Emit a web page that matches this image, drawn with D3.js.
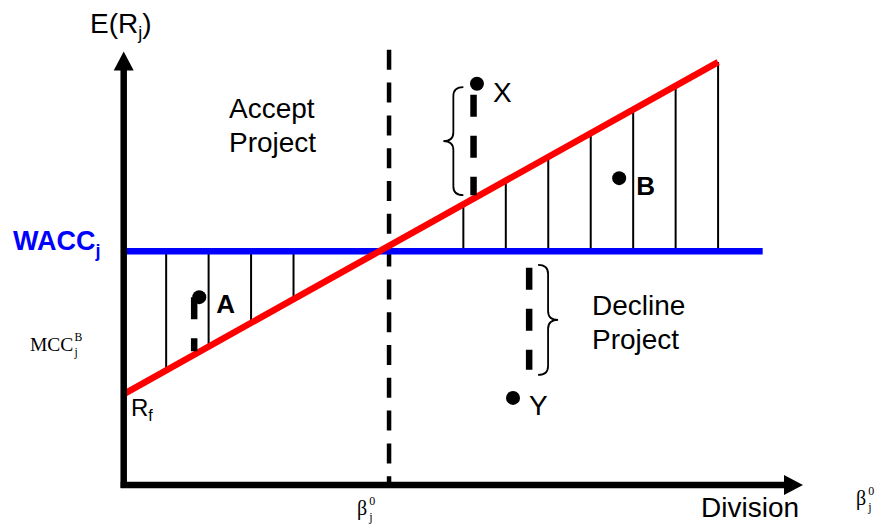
<!DOCTYPE html>
<html>
<head>
<meta charset="utf-8">
<script src="https://cdn.jsdelivr.net/npm/d3@7"></script>
<style>
  body { margin: 0; background: #fff; }
  text { font-family: "Liberation Sans", Arial, sans-serif; }
  .serif { font-family: "Liberation Serif", "Times New Roman", serif; }
</style>
</head>
<body>
<div id="chart"></div>
<script>
// conceptual values (beta on x, expected return on y)
const betaMax = 16;
const returnMax = 10.2;
const riskFree = 2.14;
const waccValue = 5.5;
const smlSlope = 0.558;
const smlEndBeta = 14;
const waccEndBeta = 15.05;
const beta0 = 6.25;
const hatchBetas = [1, 2, 3, 4, 8, 9, 10, 11, 12, 13, 14];

const projectNames = ['X', 'B', 'A', 'Y'];
const projectBeta = [8.32, 11.67, 1.78, 9.17];
const projectReturn = [9.44, 7.22, 4.42, 2.05];

const dropBeta = [8.24, 1.66, 9.55];
const dropTop = [9.18, 4.42, 5.11];
const dropBottom = [6.82, 3.15, 2.71];

const braceBeta = [8.0, 9.76];
const braceTop = [9.36, 5.18];
const braceBottom = [6.82, 2.59];
const braceDir = [-1, 1];

const width = 878, height = 527;
const margin = { left: 123.7, bottom: 42 };

const x = d3.scaleLinear()
  .domain([0, betaMax])
  .range([margin.left, 803]);

const y = d3.scaleLinear()
  .domain([0, 10])
  .range([height - margin.bottom, 60]);

const sml = b => riskFree + smlSlope * b;

const svg = d3.select('#chart')
  .append('svg')
  .attr('width', width)
  .attr('height', height)
  .attr('viewBox', [0, 0, width, height].join(' '));

// hatch lines between WACC and the SML
svg.append('g')
  .selectAll('line')
  .data(hatchBetas)
  .join('line')
  .attr('x1', d => x(d))
  .attr('x2', d => x(d))
  .attr('y1', y(waccValue))
  .attr('y2', d => y(sml(d)))
  .attr('stroke', '#000')
  .attr('stroke-width', 2);

// beta0 dashed divider
svg.append('line')
  .attr('x1', x(beta0)).attr('x2', x(beta0))
  .attr('y1', y(10.24)).attr('y2', y(0))
  .attr('stroke', '#000')
  .attr('stroke-width', 4.5)
  .attr('stroke-dasharray', '20,12.8');

// WACC line
svg.append('line')
  .attr('x1', x(0)).attr('x2', x(waccEndBeta))
  .attr('y1', y(waccValue)).attr('y2', y(waccValue))
  .attr('stroke', '#0000ff')
  .attr('stroke-width', 6.5);

// SML line
let line = d3.line()
  .x(d => x(d))
  .y(d => y(sml(d)));

svg.append('path')
  .datum([0, smlEndBeta])
  .attr('fill', 'none')
  .attr('stroke', '#ff0000')
  .attr('stroke-width', 6.5)
  .attr('d', line);

// axes with arrow heads
svg.append('line')
  .attr('x1', x(0)).attr('x2', x(0))
  .attr('y1', y(0) + 3).attr('y2', y(returnMax) + 16)
  .attr('stroke', '#000').attr('stroke-width', 6.5);
svg.append('path')
  .attr('d', `M${x(0)},${y(returnMax)} L${x(0) - 10},${y(returnMax) + 19} L${x(0) + 10},${y(returnMax) + 19} Z`)
  .attr('fill', '#000');

svg.append('line')
  .attr('x1', x(0) - 3).attr('x2', x(betaMax) - 16)
  .attr('y1', y(0)).attr('y2', y(0))
  .attr('stroke', '#000').attr('stroke-width', 6.5);
svg.append('path')
  .attr('d', `M${x(betaMax)},${y(0)} L${x(betaMax) - 19},${y(0) - 10} L${x(betaMax) - 19},${y(0) + 10} Z`)
  .attr('fill', '#000');

// dashed drops from projects to the SML / WACC
svg.append('g')
  .selectAll('line')
  .data(dropBeta)
  .join('line')
  .attr('x1', d => x(d)).attr('x2', d => x(d))
  .attr('y1', (d, i) => y(dropTop[i]))
  .attr('y2', (d, i) => y(dropBottom[i]))
  .attr('stroke', '#000')
  .attr('stroke-width', 6.5)
  .attr('stroke-dasharray', '22,19');

// curly braces
let brace = (xe, y0, y1, dir) => {
  const w = 20, r = 9;
  const xs = xe + dir * w / 2, xt = xe + dir * w, ym = (y0 + y1) / 2;
  return `M${xe},${y0} Q${xs},${y0} ${xs},${y0 + r} L${xs},${ym - r} Q${xs},${ym} ${xt},${ym}`
    + ` Q${xs},${ym} ${xs},${ym + r} L${xs},${y1 - r} Q${xs},${y1} ${xe},${y1}`;
};

svg.append('g')
  .selectAll('path')
  .data(braceBeta)
  .join('path')
  .attr('d', (d, i) => brace(x(d), y(braceTop[i]), y(braceBottom[i]), braceDir[i]))
  .attr('fill', 'none')
  .attr('stroke', '#000')
  .attr('stroke-width', 1.8);

// project points
svg.append('g')
  .selectAll('circle')
  .data(projectNames)
  .join('circle')
  .attr('cx', (d, i) => x(projectBeta[i]))
  .attr('cy', (d, i) => y(projectReturn[i]))
  .attr('r', 7)
  .attr('fill', '#000');

const labelOffset = { X: [16, 18, 'normal', 28], B: [17, 17, 'bold', 26], A: [17, 16, 'bold', 26], Y: [16, 17, 'normal', 28] };
svg.append('g')
  .selectAll('text')
  .data(projectNames)
  .join('text')
  .attr('x', (d, i) => x(projectBeta[i]) + labelOffset[d][0])
  .attr('y', (d, i) => y(projectReturn[i]) + labelOffset[d][1])
  .style('font-weight', d => labelOffset[d][2])
  .style('font-size', d => labelOffset[d][3] + 'px')
  .text(d => d);

// axis title
let title = svg.append('text').attr('x', 90).attr('y', 33).style('font-size', '28px');
title.append('tspan').text('E(R');
title.append('tspan').attr('dy', 6).style('font-size', '18px').text('j');
title.append('tspan').attr('dy', -6).text(')');

svg.append('text')
  .attr('x', 701).attr('y', 517)
  .style('font-size', '28px')
  .text('Division');

// WACC label
let wacc = svg.append('text')
  .attr('x', 13).attr('y', y(waccValue) - 1)
  .attr('fill', '#0000ff')
  .style('font-weight', 'bold')
  .style('font-size', '27px');
wacc.append('tspan').text('WACC');
wacc.append('tspan').attr('dy', 7).style('font-size', '18px').text('j');

// Rf label
let rfLabel = svg.append('text')
  .attr('x', 131).attr('y', 416)
  .style('font-size', '24px');
rfLabel.append('tspan').text('R');
rfLabel.append('tspan').attr('dy', 5).style('font-size', '16px').text('f');

// region labels
[['Accept', 'Project', 229, 118], ['Decline', 'Project', 592, 315]].forEach(t => {
  let txt = svg.append('text').attr('x', t[2]).attr('y', t[3]).style('font-size', '28px');
  txt.append('tspan').text(t[0]);
  txt.append('tspan').attr('x', t[2]).attr('dy', 34).text(t[1]);
});

// serif labels with stacked sub/superscripts
let stacked = (x0, base, main, sup, sub, size) => {
  svg.append('text').attr('class', 'serif').attr('x', x0).attr('y', base)
    .style('font-size', size + 'px').text(main);
  const w = main === 'β' ? size * 0.56 : size * 2.23;
  svg.append('text').attr('class', 'serif').attr('x', x0 + w + 1).attr('y', base - size * 0.5)
    .style('font-size', (size * 0.6) + 'px').text(sup);
  svg.append('text').attr('class', 'serif').attr('x', x0 + w + 1).attr('y', base + size * 0.28)
    .style('font-size', (size * 0.6) + 'px').text(sub);
};

stacked(30, 351, 'MCC', 'B', 'j', 19.5);
stacked(357, 515, 'β', '0', 'j', 20);
stacked(856, 505, 'β', '0', 'j', 20);
</script>
</body>
</html>
